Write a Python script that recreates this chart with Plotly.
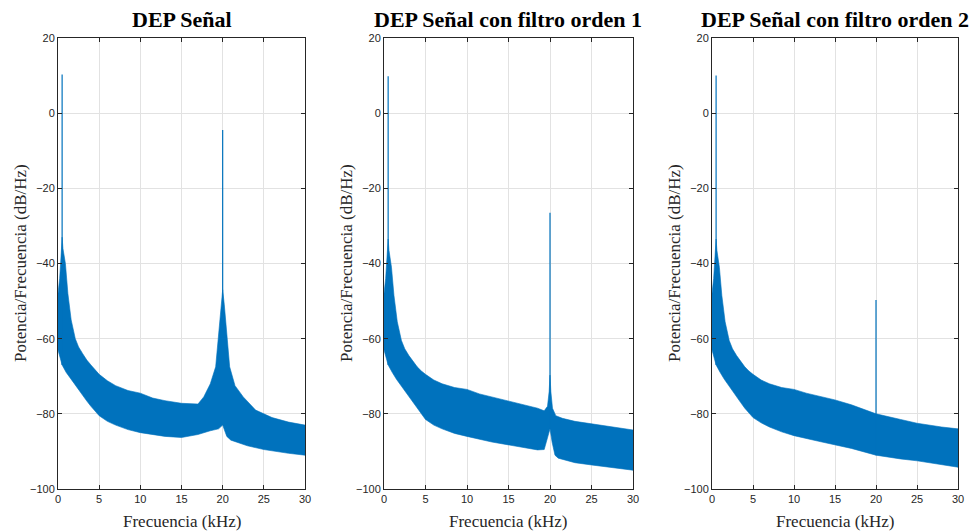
import numpy as np
import plotly.graph_objects as go

# ---------------- data ----------------
titles = ["DEP Señal", "DEP Señal con filtro orden 1", "DEP Señal con filtro orden 2"]
x_label = "Frecuencia (kHz)"
y_label = "Potencia/Frecuencia (dB/Hz)"
x_ticks = [0, 5, 10, 15, 20, 25, 30]
y_ticks = [20, 0, -20, -40, -60, -80, -100]

# Signal PSD: upper / lower envelope of the dense spectrum (kHz, dB/Hz)
f_up1 = [0, 0.2, 0.4, 0.5, 0.6, 0.9, 1.2, 1.6, 2.1, 2.5, 3, 3.5, 4, 4.5, 5, 6, 7, 8.5, 10,
         11.5, 13, 15, 17, 17.7, 18.5, 19.15, 19.53, 19.8, 20, 20.2, 20.5, 20.85, 21.5,
         22.5, 24, 26, 28, 30]
up1 = [-48, -44, -37, -33, -36, -40, -48, -55, -60, -62.2, -64, -65.7, -67, -68.3, -69.5,
       -71.2, -72.5, -73.8, -74.5, -75.8, -76.5, -77.2, -77.4, -75.5, -72, -67.5, -57.7,
       -51, -47, -51, -58, -67.5, -72.5, -75.5, -79, -81, -82.2, -83]
f_lo1 = [0, 0.5, 1, 1.5, 2, 2.5, 3, 3.5, 4, 4.5, 5, 6, 7, 8.5, 10, 13, 15, 17, 18.5, 19.5,
         20, 20.5, 21, 23, 25, 28, 30]
lo1 = [-63, -67, -69, -70.5, -72, -73.5, -75, -76.6, -78, -79.3, -80.5, -82, -83, -84.2,
       -85, -86, -86.3, -85.5, -84.5, -84, -83, -86, -87, -88.5, -89.5, -90.5, -91]

# Filter order 1
f_up2 = [0, 0.2, 0.4, 0.5, 0.6, 0.9, 1.2, 1.6, 2.1, 2.5, 3, 3.5, 4, 4.5, 5, 6, 7, 8.5, 10,
         11.5, 13, 15, 17, 18.5, 19.3, 19.7, 19.9, 20, 20.1, 20.3, 20.7, 21.5, 23, 25, 28, 30]
up2 = [-48, -44, -37, -33.5, -36.5, -41, -48.5, -55.5, -60.5, -62.7, -64.5, -66.1, -67.5,
       -68.6, -69.5, -71, -72, -73, -73.5, -74.7, -75.5, -76.5, -77.7, -78.5, -79.2, -78,
       -74, -69.7, -74, -78.5, -80.5, -81.2, -82, -82.7, -83.7, -84.3]
f_lo2 = [0, 0.5, 1, 1.5, 2, 2.5, 3, 3.5, 4, 4.5, 5, 6, 7, 8.5, 10, 13, 15, 17, 18.5, 19.3,
         19.7, 20, 20.25, 20.6, 21, 23, 25, 28, 30]
lo2 = [-63, -67, -69, -70.8, -72.5, -74, -75.5, -77, -78.5, -80, -81.5, -83, -84, -85.2,
       -86, -87.5, -88.3, -89, -89.6, -89.5, -86.5, -84, -87.5, -91, -91.8, -93, -93.6,
       -94.5, -95]

# Filter order 2
f_up3 = [0, 0.2, 0.4, 0.5, 0.6, 0.9, 1.2, 1.6, 2.1, 2.5, 3, 3.5, 4, 4.5, 5, 6, 7, 8.5, 10,
         11.5, 13, 15, 17, 20, 23, 25, 28, 30]
up3 = [-48, -44, -37, -33.5, -36.5, -41, -48.5, -55.5, -60.5, -62.7, -64.5, -66.1, -67.5,
       -68.6, -69.5, -71, -72, -73, -73.5, -74.5, -75.3, -76.3, -77.6, -80, -81.5, -82.5,
       -83.5, -84]
f_lo3 = [0, 0.5, 1, 1.5, 2, 2.5, 3, 3.5, 4, 4.5, 5, 6, 7, 8.5, 10, 13, 15, 17, 20, 23, 25,
         28, 30]
lo3 = [-63, -67, -69, -70.8, -72.5, -74, -75.5, -77, -78.5, -79.8, -81, -82.4, -83.5,
       -84.8, -85.8, -87.3, -88.3, -89.2, -91, -92, -92.5, -93.5, -94.2]

# Narrow spectral lines (tone at 0.5 kHz and 20 kHz)
spike_f = [0.5, 20]
spike_top1 = [10.3, -4.5]
spike_top2 = [9.8, -26.5]
spike_top3 = [10.0, -49.7]

# ---------------- figure ----------------
W, H = 979, 531
BLUE = "#0072BD"
AX = "#262626"
SERIF = "Liberation Serif"
SANS = "Liberation Sans"

panels = [
    (f_up1, up1, f_lo1, lo1, spike_top1),
    (f_up2, up2, f_lo2, lo2, spike_top2),
    (f_up3, up3, f_lo3, lo3, spike_top3),
]
px_dom = [(58, 305), (384, 633), (712, 958)]
y_top_px, y_bot_px = 38, 489
ydom = [1 - y_bot_px / H, 1 - y_top_px / H]

fig = go.Figure()
layout = dict(
    width=W, height=H, margin=dict(l=0, r=0, t=0, b=0, autoexpand=False),
    paper_bgcolor="white", plot_bgcolor="white", showlegend=False,
    font=dict(family=SANS, size=11, color=AX),
)
annotations = []
for i, (fu, u, fl, l, tops) in enumerate(panels):
    n = "" if i == 0 else str(i + 1)
    xa, ya = "x" + n, "y" + n
    fx = list(fu) + list(fl)[::-1]
    fy = list(u) + list(l)[::-1]
    fig.add_trace(go.Scatter(x=fx, y=fy, fill="toself", fillcolor=BLUE, mode="lines",
                             line=dict(color=BLUE, width=0.6), xaxis=xa, yaxis=ya,
                             hoverinfo="skip"))
    sx, sy = [], []
    for f0, t in zip(spike_f, tops):
        base = float(np.interp(f0, fl, l))
        sx += [f0, f0, None]
        sy += [base, t, None]
    fig.add_trace(go.Scatter(x=sx, y=sy, mode="lines", line=dict(color=BLUE, width=1.2),
                             xaxis=xa, yaxis=ya, hoverinfo="skip"))
    x0, x1 = px_dom[i]
    common = dict(showline=True, linecolor=AX, linewidth=1, mirror="ticks",
                  ticks="inside", ticklen=4, tickcolor=AX, showgrid=True,
                  gridcolor="#e2e2e2", gridwidth=1, zeroline=False, automargin=False,
                  tickfont=dict(family=SANS, size=11, color=AX))
    layout["xaxis" + n] = dict(domain=[x0 / W, x1 / W], range=[0, 30], tickvals=x_ticks,
                               anchor=ya, **common)
    layout["yaxis" + n] = dict(domain=ydom, range=[-100, 20], tickvals=y_ticks,
                               anchor=xa, **common)
    cx = (x0 + x1) / 2 / W
    annotations.append(dict(text="<b>%s</b>" % titles[i], x=cx, y=1 - 19 / H, xref="paper",
                            yref="paper", showarrow=False, xanchor="center", yanchor="middle",
                            font=dict(family=SERIF, size=22, color="black")))
    annotations.append(dict(text=x_label, x=cx, y=1 - 521 / H, xref="paper", yref="paper",
                            showarrow=False, xanchor="center", yanchor="middle",
                            font=dict(family=SERIF, size=17, color=AX)))
    annotations.append(dict(text=y_label, x=(x0 - 38) / W, y=1 - 263 / H, xref="paper",
                            yref="paper", showarrow=False, xanchor="center", yanchor="middle",
                            textangle=-90,
                            font=dict(family=SERIF, size=17, color=AX)))
layout["annotations"] = annotations
fig.update_layout(**layout)
fig.write_html("out.html")
